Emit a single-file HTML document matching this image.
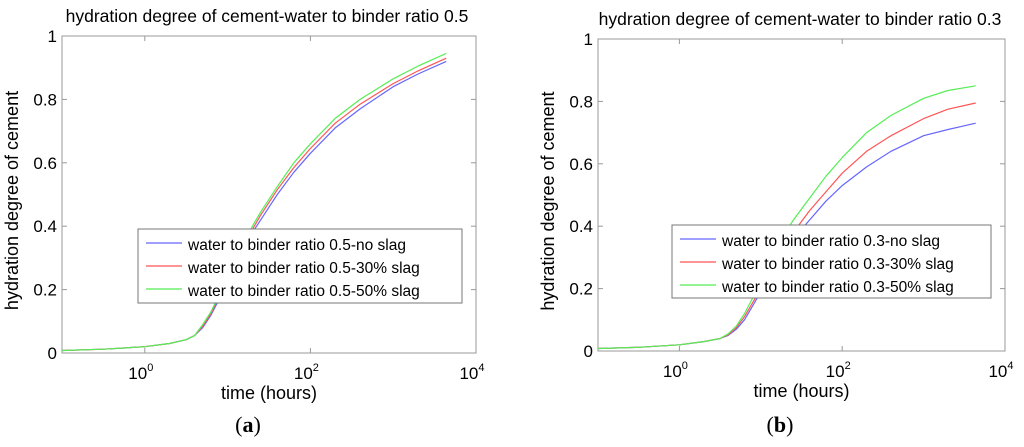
<!DOCTYPE html>
<html><head><meta charset="utf-8"><style>
body{margin:0;background:#fff;width:1024px;height:442px;overflow:hidden}
svg text{font-family:"Liberation Sans",sans-serif;fill:#000}
svg text.cap{font-family:"Liberation Serif",serif}
</style></head><body>
<svg id="s" width="1024" height="442"></svg>
<script>
const logT=[-1,-0.5,0,0.3,0.5,0.6,0.7,0.8,0.9,1.0,1.1,1.2,1.3,1.4,1.5,1.6,1.8,2.0,2.3,2.6,3.0,3.3,3.64];
const aNoSlag=[0.008,0.012,0.02,0.03,0.042,0.055,0.08,0.12,0.17,0.22,0.275,0.33,0.38,0.42,0.46,0.5,0.57,0.63,0.71,0.77,0.84,0.88,0.92];
const a30=[0.008,0.012,0.02,0.03,0.042,0.055,0.085,0.125,0.18,0.23,0.285,0.34,0.39,0.435,0.475,0.515,0.585,0.645,0.725,0.785,0.85,0.89,0.93];
const a50=[0.008,0.012,0.02,0.03,0.042,0.055,0.09,0.13,0.185,0.24,0.295,0.35,0.4,0.445,0.485,0.525,0.6,0.66,0.74,0.8,0.865,0.905,0.945];
const bNoSlag=[0.008,0.012,0.02,0.03,0.04,0.05,0.07,0.1,0.145,0.19,0.24,0.29,0.33,0.36,0.39,0.42,0.48,0.53,0.59,0.64,0.69,0.71,0.73];
const b30=[0.008,0.012,0.02,0.03,0.04,0.052,0.075,0.11,0.155,0.2,0.25,0.3,0.34,0.38,0.415,0.45,0.51,0.57,0.64,0.69,0.745,0.775,0.795];
const b50=[0.008,0.012,0.02,0.03,0.04,0.055,0.08,0.12,0.17,0.22,0.275,0.33,0.38,0.42,0.455,0.49,0.56,0.62,0.7,0.755,0.81,0.835,0.85];
const yTicks=[0,0.2,0.4,0.6,0.8,1];
const yTickLabels=["0","0.2","0.4","0.6","0.8","1"];
const xTicks=[0,2,4];
const seriesColors=["#6666ff","#ff5555","#55ee55"];
const NS="http://www.w3.org/2000/svg";
const svg=document.getElementById('s');
function mk(t,a,p){const e=document.createElementNS(NS,t);for(const k in a)e.setAttribute(k,a[k]);(p||svg).appendChild(e);return e;}
function panel(o){
  const g=mk('g',{});
  
  
  const X=v=>o.x0+(v+1)/5*(o.x1-o.x0);
  const Y=v=>o.y1-v*(o.y1-o.y0);
  mk('rect',{x:o.x0,y:o.y0,width:o.x1-o.x0,height:o.y1-o.y0,fill:'#fff',stroke:'#999','stroke-width':1},g);
  yTicks.forEach((t,i)=>{
    const y=Y(t);
    mk('line',{x1:o.x0,x2:o.x0+5,y1:y,y2:y,stroke:'#999'},g);
    mk('line',{x1:o.x1-5,x2:o.x1,y1:y,y2:y,stroke:'#999'},g);
    const tx=mk('text',{x:o.x0-5,y:y+6,'text-anchor':'end','font-size':17},g);
    tx.textContent=yTickLabels[i];
    
    
  });
  xTicks.forEach(t=>{
    const x=X(t);
    mk('line',{x1:x,x2:x,y1:o.y1,y2:o.y1-5,stroke:'#999'},g);
    mk('line',{x1:x,x2:x,y1:o.y0,y2:o.y0+5,stroke:'#999'},g);
    const tx=mk('text',{x:x-4,y:o.y1+26,'text-anchor':'middle','font-size':17},g);
    tx.innerHTML='10<tspan dy="-8" font-size="11">'+t+'</tspan>';
    
    
  });
  o.series.forEach((s,i)=>{
    const d=logT.map((t,j)=>(j?'L':'M')+X(t).toFixed(1)+','+Y(s[j]).toFixed(1)).join('');
    const p=mk('path',{d:d,fill:'none',stroke:seriesColors[i],'stroke-width':1.2,'stroke-linejoin':'round'},g);
    
    
  });
  const lg=mk('g',{},g);
  
  
  mk('rect',{x:o.lx,y:o.ly,width:o.lw,height:o.lh,fill:'#fff',stroke:'#777'},lg);
  o.labels.forEach((l,i)=>{
    const y=o.ly+15+i*23;
    mk('line',{x1:o.lx+8,x2:o.lx+44,y1:y-1,y2:y-1,stroke:seriesColors[i],'stroke-width':1.2},lg);
    const tx=mk('text',{x:o.lx+50,y:y+6,'font-size':15.5},lg);
    tx.textContent=l;
    
    
  });
  const tt=mk('text',{x:o.tx,y:o.ty,'text-anchor':'middle','font-size':17.5},g);
  tt.textContent=o.title;
  
  
  const xl=mk('text',{x:(o.x0+o.x1)/2,y:o.y1+46,'text-anchor':'middle','font-size':18},g);
  xl.textContent='time (hours)';
  
  
  const yc=(o.y0+o.y1)/2;
  const yx=o.x0-44;
  const yl=mk('text',{x:yx,y:yc+6,'text-anchor':'middle','font-size':18,transform:'rotate(-90 '+yx+' '+(yc+6)+')'},g);
  yl.textContent='hydration degree of cement';
  
  
  const cap=mk('text',{x:o.cx,y:432,'text-anchor':'middle','font-size':22,class:'cap'},g);
  cap.innerHTML='(<tspan font-weight="bold">'+o.cap+'</tspan>)';
  
  
}
panel({id:'panel-a',x0:62,x1:476,y0:36,y1:353,lx:138,ly:229,lw:324,lh:74,tx:267,ty:22,cx:248,cap:'a',
  title:'hydration degree of cement-water to binder ratio 0.5',series:[aNoSlag,a30,a50],keys:['no-slag','30-slag','50-slag'],
  labels:['water to binder ratio 0.5-no slag','water to binder ratio 0.5-30% slag','water to binder ratio 0.5-50% slag']});
panel({id:'panel-b',x0:598,x1:1005,y0:39,y1:351,lx:672,ly:225,lw:319,lh:73,tx:800,ty:25,cx:780,cap:'b',
  title:'hydration degree of cement-water to binder ratio 0.3',series:[bNoSlag,b30,b50],keys:['no-slag','30-slag','50-slag'],
  labels:['water to binder ratio 0.3-no slag','water to binder ratio 0.3-30% slag','water to binder ratio 0.3-50% slag']});
</script>
</body></html>
